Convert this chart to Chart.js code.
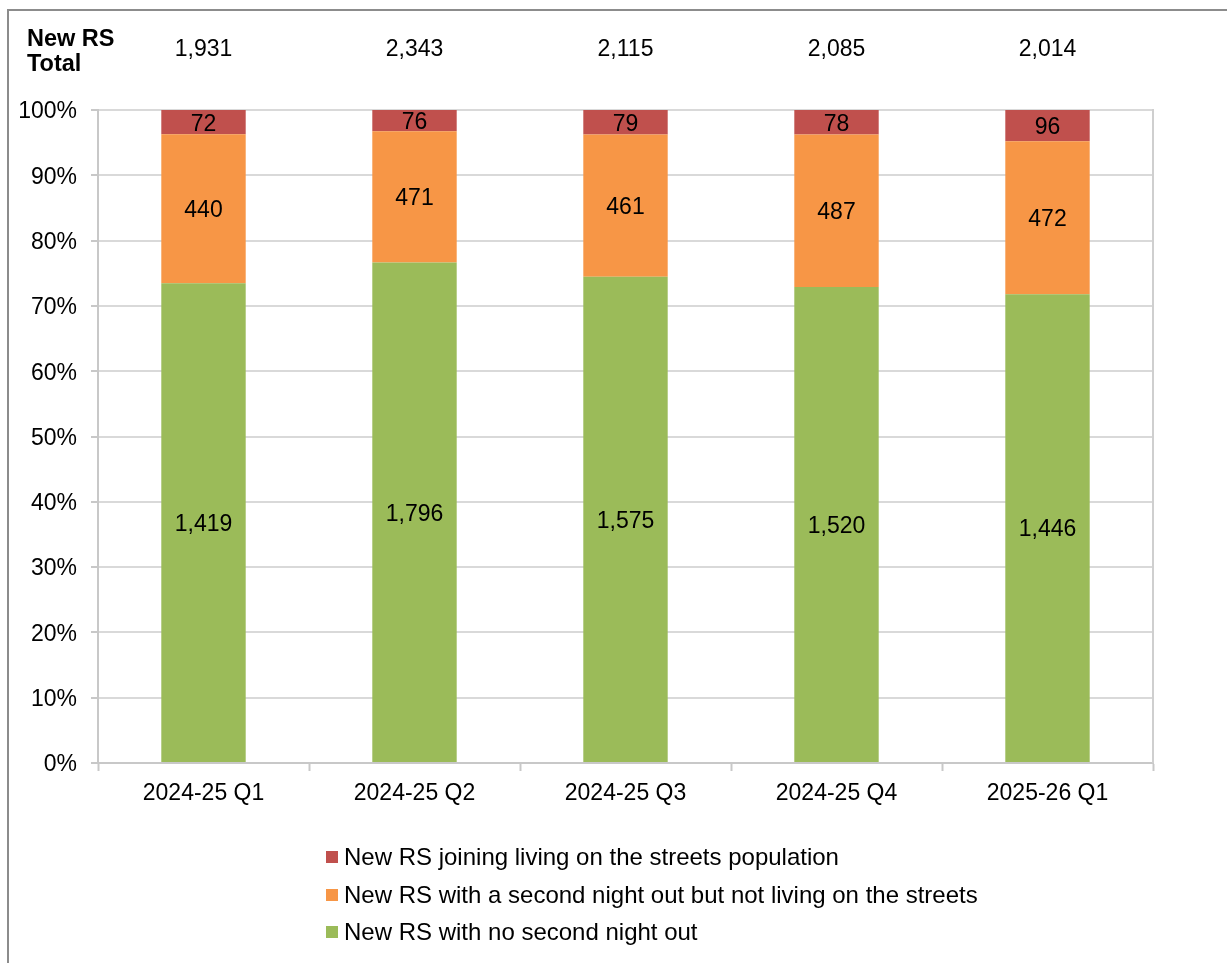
<!DOCTYPE html>
<html>
<head>
<meta charset="utf-8">
<title>New rough sleepers by quarter</title>
<script src="https://cdn.jsdelivr.net/npm/chart.js@4.4.1/dist/chart.umd.min.js"></script>
<style>
    body { margin: 0; background: #fff; }
    #wrap { position: relative; width: 1227px; height: 963px; }
</style>
</head>
<body>
<div id="wrap"><canvas id="chart"></canvas></div>
<script>
var categories = ["2024-25 Q1", "2024-25 Q2", "2024-25 Q3", "2024-25 Q4", "2025-26 Q1"];
var noSecondNight = [1419, 1796, 1575, 1520, 1446];
var secondNightNotLiving = [440, 471, 461, 487, 472];
var joiningLiving = [72, 76, 79, 78, 96];
var totals = [1931, 2343, 2115, 2085, 2014];

var seriesNames = [
    "New RS with no second night out",
    "New RS with a second night out but not living on the streets",
    "New RS joining living on the streets population"
];
var seriesCounts = [noSecondNight, secondNightNotLiving, joiningLiving];
var seriesColors = ["#9bbb59", "#f79646", "#c0504d"];

var FONT = "'Liberation Sans', Arial, sans-serif";

function formatNum(n) {
    return n.toString().replace(/\B(?=(\d{3})+(?!\d))/g, ",");
}

function shares(counts) {
    return counts.map(function(v, i) {
        var sum = noSecondNight[i] + secondNightNotLiving[i] + joiningLiving[i];
        return v / sum;
    });
}

var datasets = seriesNames.map(function(name, k) {
    return {
        label: name,
        data: shares(seriesCounts[k]),
        counts: seriesCounts[k],
        backgroundColor: seriesColors[k],
        borderWidth: 0,
        barPercentage: 0.4,
        categoryPercentage: 1.0
    };
});

var extrasPlugin = {
    id: "extras",
    beforeDraw: function(chart) {
        var ctx = chart.ctx;
        ctx.save();
        ctx.strokeStyle = "#8c8c8c";
        ctx.lineWidth = 2;
        ctx.beginPath();
        ctx.moveTo(8, 963);
        ctx.lineTo(8, 10);
        ctx.lineTo(1227, 10);
        ctx.stroke();
        ctx.restore();
    },
    afterDraw: function(chart) {
        var ctx = chart.ctx;
        var area = chart.chartArea;
        var xs = chart.scales.x;
        ctx.save();

        // plot area right border
        ctx.strokeStyle = "#cfcfcf";
        ctx.lineWidth = 2;
        ctx.beginPath();
        ctx.moveTo(area.right, area.top - 1);
        ctx.lineTo(area.right, area.bottom);
        ctx.stroke();

        // segment labels
        ctx.fillStyle = "#000";
        ctx.font = "23px " + FONT;
        ctx.textAlign = "center";
        ctx.textBaseline = "middle";
        chart.data.datasets.forEach(function(ds, di) {
            var meta = chart.getDatasetMeta(di);
            meta.data.forEach(function(bar, i) {
                var y = (bar.y + bar.base) / 2;
                ctx.fillText(formatNum(ds.counts[i]), bar.x, y + 2);
            });
        });

        // totals row
        ctx.font = "bold 23.5px " + FONT;
        ctx.textAlign = "left";
        ctx.fillText("New RS", 27, 40);
        ctx.fillText("Total", 27, 65);
        ctx.font = "23px " + FONT;
        ctx.textAlign = "center";
        totals.forEach(function(t, i) {
            ctx.fillText(formatNum(t), xs.getPixelForValue(i), 50);
        });

        // legend (reversed order)
        ctx.font = "24px " + FONT;
        ctx.textAlign = "left";
        var ly = [857, 895, 932];
        for (var k = 0; k < 3; k++) {
            var di = 2 - k;
            ctx.fillStyle = seriesColors[di];
            ctx.fillRect(326, ly[k] - 6, 12, 12);
            ctx.fillStyle = "#000";
            ctx.fillText(seriesNames[di], 344, ly[k] + 1);
        }
        ctx.restore();
    }
};

new Chart(document.getElementById("chart"), {
    type: "bar",
    data: {
        labels: categories,
        datasets: datasets
    },
    options: {
        responsive: true,
        maintainAspectRatio: false,
        animation: false,
        layout: { padding: { left: 0, top: 110, right: 74, bottom: 140 } },
        plugins: {
            legend: { display: false },
            tooltip: { enabled: false }
        },
        scales: {
            x: {
                stacked: true,
                offset: true,
                grid: {
                    offset: true,
                    drawOnChartArea: false,
                    tickLength: 8,
                    tickColor: "#c8c8c8",
                    tickWidth: 2
                },
                border: { color: "#c8c8c8", width: 2 },
                ticks: {
                    color: "#000",
                    font: { family: FONT, size: 23 },
                    padding: 9,
                    maxRotation: 0
                },
                afterFit: function(scale) { scale.height = 60; }
            },
            y: {
                stacked: true,
                min: 0,
                max: 1,
                grid: {
                    color: "#d9d9d9",
                    lineWidth: 2,
                    tickLength: 7,
                    tickColor: "#c8c8c8",
                    tickWidth: 2
                },
                border: { color: "#c8c8c8", width: 2 },
                ticks: {
                    stepSize: 0.1,
                    color: "#000",
                    font: { family: FONT, size: 23 },
                    padding: 14,
                    labelOffset: 2,
                    callback: function(v) { return Math.round(v * 100) + "%"; }
                },
                afterFit: function(scale) { scale.width = 98; }
            }
        }
    },
    plugins: [extrasPlugin]
});
</script>
</body>
</html>
